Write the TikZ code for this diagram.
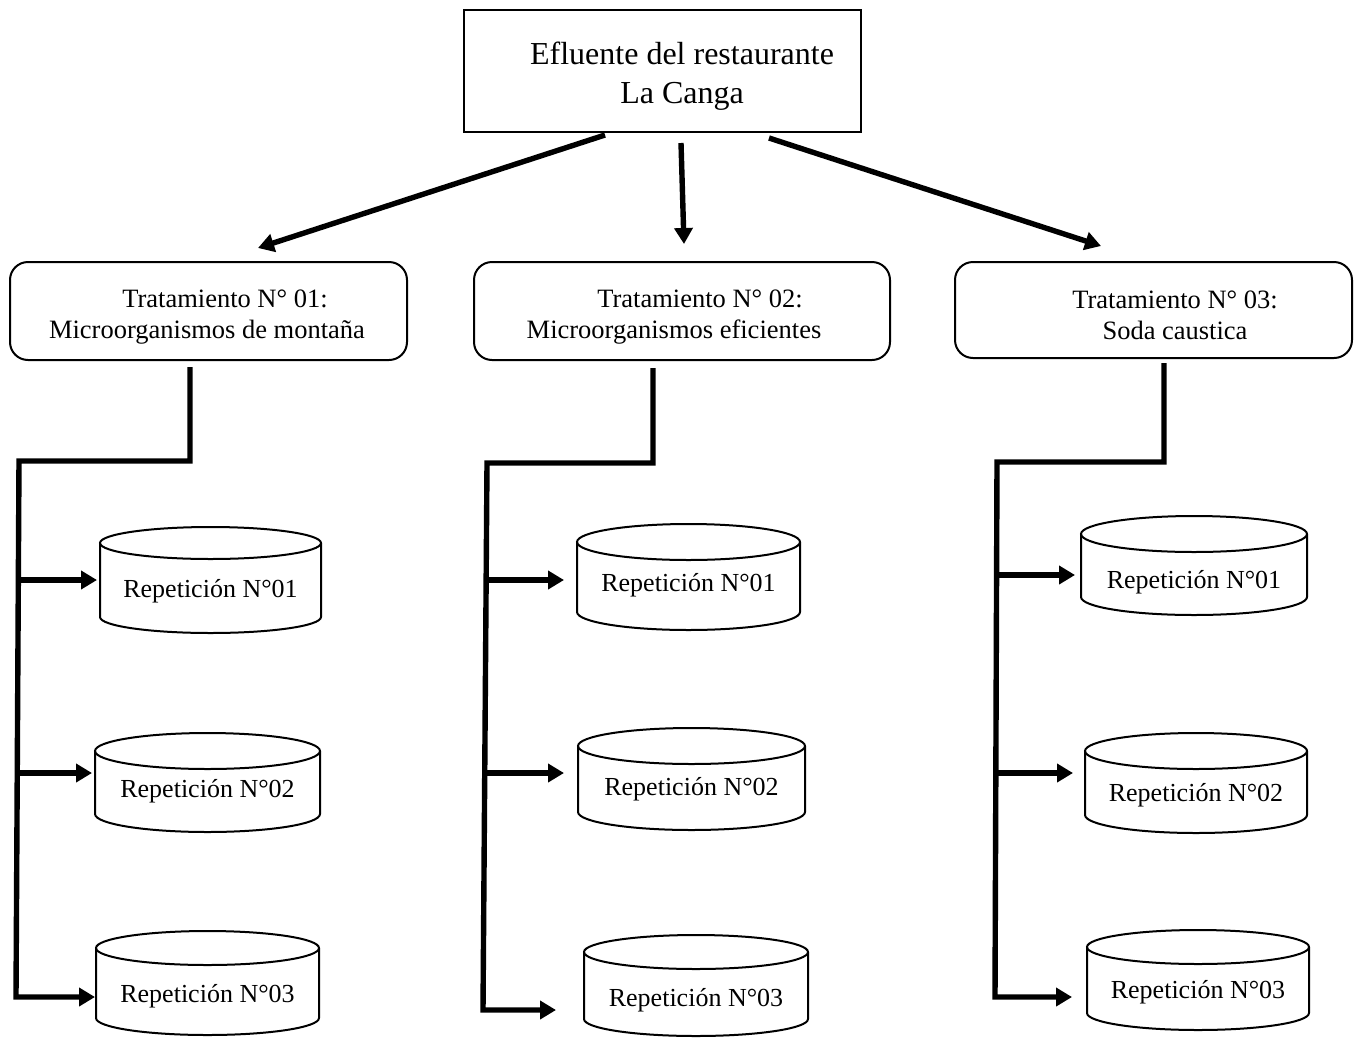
\documentclass[tikz,border=0pt]{standalone}
\usepackage{fontspec}
\setmainfont{Liberation Serif}
\usetikzlibrary{arrows.meta,calc}
\tikzset{
  topbox/.style={draw, line width=2pt, inner sep=0pt},
  trbox/.style={draw, line width=2pt, rounded corners=18pt, inner sep=0pt},
  toptext/.style={align=center, font=\fontsize{32}{39}\selectfont, inner sep=0pt},
  trtext/.style={align=center, font=\fontsize{26.5}{31}\selectfont, inner sep=0pt},
  cyltext/.style={font=\fontsize{26}{31}\selectfont, inner sep=0pt},
  cylline/.style={line width=2pt},
  conn/.style={line width=5.4pt},
  arr/.style={conn, -{Triangle[length=16pt,width=18pt]}},
}
% name, xleft, xright, ytop(center of top ellipse), ybot(center of bottom ellipse), ry, texty, text
\newcommand\mycyl[8]{%
  \draw[cylline] (#2,#4) -- (#2,#5) arc[start angle=180,end angle=0,x radius={(#3-#2)/2},y radius=#6] -- (#3,#4);
  \draw[cylline] ({(#2+#3)/2},#4) ellipse[x radius={(#3-#2)/2},y radius=#6];
  \node[cyltext] (#1) at ({(#2+#3)/2},#7) {#8};
}
\begin{document}
\begin{tikzpicture}[x=1pt,y=-1pt]
\useasboundingbox (0,0) rectangle (1354,1039);

% top box
\node[topbox, minimum width=397pt, minimum height=122pt] (top) at (662.5,71) {};
\node[toptext] (toptxt) at (682,76) {Efluente del restaurante\\La Canga};

% treatment boxes
\node[trbox, minimum width=397pt, minimum height=98pt] (t1) at (208.5,311) {};
\node[trtext] (t1txt) at (207,317) {\hspace*{36pt}Tratamiento N° 01:\\Microorganismos de montaña};
\node[trbox, minimum width=416pt, minimum height=98pt] (t2) at (682,311) {};
\node[trtext] (t2txt) at (674,317) {\hspace*{52pt}Tratamiento N° 02:\\Microorganismos eficientes};
\node[trbox, minimum width=397pt, minimum height=96pt] (t3) at (1153.5,310) {};
\node[trtext] (t3txt) at (1175,315) {Tratamiento N° 03:\\Soda caustica};

% arrows from top box
\coordinate (a1s) at (605,135); \coordinate (a1e) at (258,248);
\coordinate (a2s) at (681,143); \coordinate (a2e) at (684,244);
\coordinate (a3s) at (769,138); \coordinate (a3e) at (1101,246);
\draw[arr] (a1s) -- (a1e);
\draw[arr] (a2s) -- (a2e);
\draw[arr] (a3s) -- (a3e);

% cylinders column 1
\mycyl{c11}{100}{321}{543}{617}{16}{591}{Repetición N°01}
\mycyl{c12}{95}{320}{751}{814}{18}{791}{Repetición N°02}
\mycyl{c13}{96}{319}{948}{1018}{17}{996}{Repetición N°03}
% column 2
\mycyl{c21}{577}{800}{542}{612}{18}{585}{Repetición N°01}
\mycyl{c22}{578}{805}{746}{812}{18}{789}{Repetición N°02}
\mycyl{c23}{584}{808}{952}{1019}{17}{1000}{Repetición N°03}
% column 3
\mycyl{c31}{1081}{1307}{534}{597}{18}{582}{Repetición N°01}
\mycyl{c32}{1085}{1307}{751}{815}{18}{795}{Repetición N°02}
\mycyl{c33}{1087}{1309}{947}{1013}{17}{992}{Repetición N°03}

% bracket column 1
\coordinate (b1s) at (190,367);
\coordinate (b11) at (97,580); \coordinate (b12) at (92,773); \coordinate (b13) at (95,997);
\draw[arr] (b1s) -- (190,461) -- (19,461) -- (16,997) -- (b13);
\draw[arr] (18.3,580) -- (b11);
\draw[arr] (17,773) -- (b12);

% bracket column 2
\coordinate (b2s) at (653,368);
\coordinate (b21) at (564,580); \coordinate (b22) at (564,773); \coordinate (b23) at (556,1010);
\draw[arr] (b2s) -- (653,463) -- (487,463) -- (483,1010) -- (b23);
\draw[arr] (486.2,580) -- (b21);
\draw[arr] (485.6,773) -- (b22);

% bracket column 3
\coordinate (b3s) at (1164,363);
\coordinate (b31) at (1075,575); \coordinate (b32) at (1073,773); \coordinate (b33) at (1072,997);
\draw[arr] (b3s) -- (1164,462) -- (997,462) -- (995,997) -- (b33);
\draw[arr] (996.6,575) -- (b31);
\draw[arr] (996,773) -- (b32);
\end{tikzpicture}
\end{document}
